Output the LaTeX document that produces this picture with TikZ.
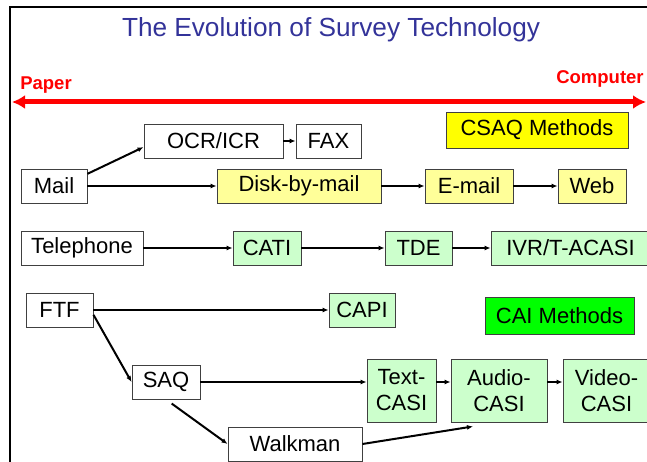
\documentclass[tikz,border=0pt]{standalone}
\usepackage{fontspec}
\setmainfont{Liberation Sans}
\usetikzlibrary{arrows.meta}
\definecolor{titleblue}{HTML}{333399}
\definecolor{csaqyellow}{HTML}{FFFF00}
\definecolor{paleyellow}{HTML}{FFFF99}
\definecolor{palegreen}{HTML}{CCFFCC}
\definecolor{caigreen}{HTML}{00FF00}
\begin{document}
\begin{tikzpicture}[x=1pt,y=-1pt,
  box/.style={draw=black!75, line width=0.9pt, inner sep=0pt, align=center,
    font=\fontsize{22}{26}\selectfont, minimum height=34pt},
  plainbox/.style={box, fill=white},
  csaqbox/.style={box, fill=paleyellow},
  caibox/.style={box, fill=palegreen},
  flow/.style={line width=2pt, -{Latex[length=6pt,width=5pt]}},
  spanarrow/.style={red, line width=5pt, {Latex[length=13pt,width=14pt]}-{Latex[length=13pt,width=14pt]}}]
\useasboundingbox (0,0) rectangle (647,462);

% frame
\draw[line width=1.5pt] (10,462) -- (10,7) -- (647,7);

% title
\node[text=titleblue, font=\fontsize{26.2}{30}\selectfont] (title) at (331,30)
  {The Evolution of Survey Technology};

% paper-to-computer axis
\coordinate (spanL) at (12,102);
\coordinate (spanR) at (646,102);
\draw[spanarrow] (spanL) -- (spanR);
\node[text=red, font=\bfseries\fontsize{18.5}{20}\selectfont] (paper) at (46,85) {Paper};
\node[text=red, font=\bfseries\fontsize{18.5}{20}\selectfont] (computer) at (600,79) {Computer};

% legend boxes
\node[box, fill=csaqyellow, minimum width=182pt, minimum height=36pt] (csaq) at (537,130) {CSAQ Methods};
\node[box, fill=caigreen, minimum width=149pt, minimum height=37pt] (cai) at (559.5,315.5) {CAI Methods};

% mail row
\node[plainbox, minimum width=139pt] (ocr) at (213.5,141) {OCR/ICR};
\node[plainbox, minimum width=65pt] (fax) at (328.5,141) {FAX};
\node[plainbox, minimum width=66pt] (mail) at (54,186) {Mail};
\node[csaqbox, minimum width=164pt] (disk) at (299,186) {Disk-by-mail};
\node[csaqbox, minimum width=88pt] (email) at (469,186) {E-mail};
\node[csaqbox, minimum width=68pt] (web) at (592,186) {Web};

% telephone row
\node[plainbox, minimum width=122pt] (tel) at (82,248) {Telephone};
\node[caibox, minimum width=68pt] (cati) at (267,248) {CATI};
\node[caibox, minimum width=67pt] (tde) at (418.5,248) {TDE};
\node[caibox, minimum width=159pt] (ivr) at (570.5,248) {IVR/T-ACASI};

% face-to-face rows
\node[plainbox, minimum width=67pt] (ftf) at (59.5,310) {FTF};
\node[caibox, minimum width=66pt] (capi) at (362,310) {CAPI};
\node[plainbox, minimum width=68pt] (saq) at (166,382) {SAQ};
\node[caibox, minimum width=69pt, minimum height=63pt] (textc) at (401.5,390.5) {Text-\\CASI};
\node[caibox, minimum width=96pt, minimum height=63pt] (audio) at (499,390.5) {Audio-\\CASI};
\node[caibox, minimum width=87pt, minimum height=63pt] (video) at (606.5,390.5) {Video-\\CASI};
\node[plainbox, minimum width=134pt] (walk) at (295,444) {Walkman};

% connectors
\draw[flow] (mail.20) -- (ocr.185);
\draw[flow] (ocr) -- (fax);
\draw[flow] (mail) -- (disk);
\draw[flow] (disk) -- (email);
\draw[flow] (email) -- (web);
\draw[flow] (tel) -- (cati);
\draw[flow] (cati) -- (tde);
\draw[flow] (tde) -- (ivr);
\draw[flow] (ftf) -- (capi);
\draw[flow] (ftf.-8) -- (saq.west);
\draw[flow] (saq.east) -- (saq.east -| textc.west);
\draw[flow] (textc.east |- saq.east) -- (audio.west |- saq.east);
\draw[flow] (audio.east |- saq.east) -- (video.west |- saq.east);
\draw[flow, shorten <=7pt] (saq.south) -- (walk.west);
\draw[flow] (walk.east) -- ([xshift=-26pt,yshift=-4pt]audio.south);
\end{tikzpicture}
\end{document}
